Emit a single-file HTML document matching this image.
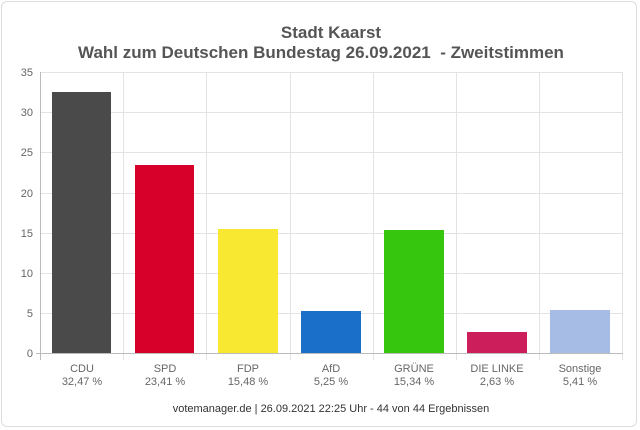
<!DOCTYPE html>
<html><head><style>
body{margin:0;background:#fff;}
.card{position:absolute;left:1px;top:1px;width:636px;height:426px;border:1px solid #ddd;border-radius:6px;box-sizing:border-box;}
</style></head><body>
<div class="card"></div>
<svg width="640" height="430" style="position:absolute;left:0;top:0" font-family="Liberation Sans, sans-serif">
<text x="331" y="38" text-anchor="middle" font-size="17" font-weight="bold" fill="#555">Stadt Kaarst</text>
<text x="321" y="58" text-anchor="middle" font-size="17" font-weight="bold" fill="#555" xml:space="preserve">Wahl zum Deutschen Bundestag 26.09.2021  - Zweitstimmen</text>
<g stroke="#e3e3e3" stroke-width="1">
<line x1="40" y1="72.5" x2="623" y2="72.5"/><line x1="40" y1="112.5" x2="623" y2="112.5"/>
<line x1="40" y1="152.5" x2="623" y2="152.5"/><line x1="40" y1="193.5" x2="623" y2="193.5"/>
<line x1="40" y1="233.5" x2="623" y2="233.5"/><line x1="40" y1="273.5" x2="623" y2="273.5"/>
<line x1="40" y1="313.5" x2="623" y2="313.5"/>
<line x1="123.5" y1="72" x2="123.5" y2="360"/><line x1="206.5" y1="72" x2="206.5" y2="360"/>
<line x1="290.5" y1="72" x2="290.5" y2="360"/><line x1="373.5" y1="72" x2="373.5" y2="360"/>
<line x1="456.5" y1="72" x2="456.5" y2="360"/><line x1="539.5" y1="72" x2="539.5" y2="360"/>
<line x1="622.5" y1="72" x2="622.5" y2="360"/>
</g>
<g stroke="#bbb"><line x1="40.5" y1="72" x2="40.5" y2="360"/><line x1="36" y1="353.5" x2="623" y2="353.5"/></g>
<g font-size="11" fill="#666" text-anchor="end">
<text x="33" y="76">35</text><text x="33" y="116">30</text><text x="33" y="156">25</text><text x="33" y="197">20</text>
<text x="33" y="237">15</text><text x="33" y="277">10</text><text x="33" y="317">5</text><text x="33" y="357">0</text>
</g>
<rect x="52" y="92" width="59" height="261" fill="#4a4a4a"/>
<rect x="135" y="165" width="59" height="188" fill="#d7002a"/>
<rect x="218" y="229" width="60" height="124" fill="#f9e831"/>
<rect x="301" y="311" width="60" height="42" fill="#1a70c8"/>
<rect x="384" y="230" width="60" height="123" fill="#36c60d"/>
<rect x="467" y="332" width="60" height="21" fill="#cd1e5c"/>
<rect x="550" y="310" width="60" height="43" fill="#a7bce5"/>
<g font-size="11" fill="#666" text-anchor="middle">
<text x="82" y="372">CDU</text><text x="82" y="385">32,47 %</text>
<text x="165" y="372">SPD</text><text x="165" y="385">23,41 %</text>
<text x="248" y="372">FDP</text><text x="248" y="385">15,48 %</text>
<text x="331" y="372">AfD</text><text x="331" y="385">5,25 %</text>
<text x="414" y="372">GRÜNE</text><text x="414" y="385">15,34 %</text>
<text x="497" y="372">DIE LINKE</text><text x="497" y="385">2,63 %</text>
<text x="580" y="372">Sonstige</text><text x="580" y="385">5,41 %</text>
<text x="331" y="412" fill="#333">votemanager.de | 26.09.2021 22:25 Uhr - 44 von 44 Ergebnissen</text>
</g>
</svg>
</body></html>
